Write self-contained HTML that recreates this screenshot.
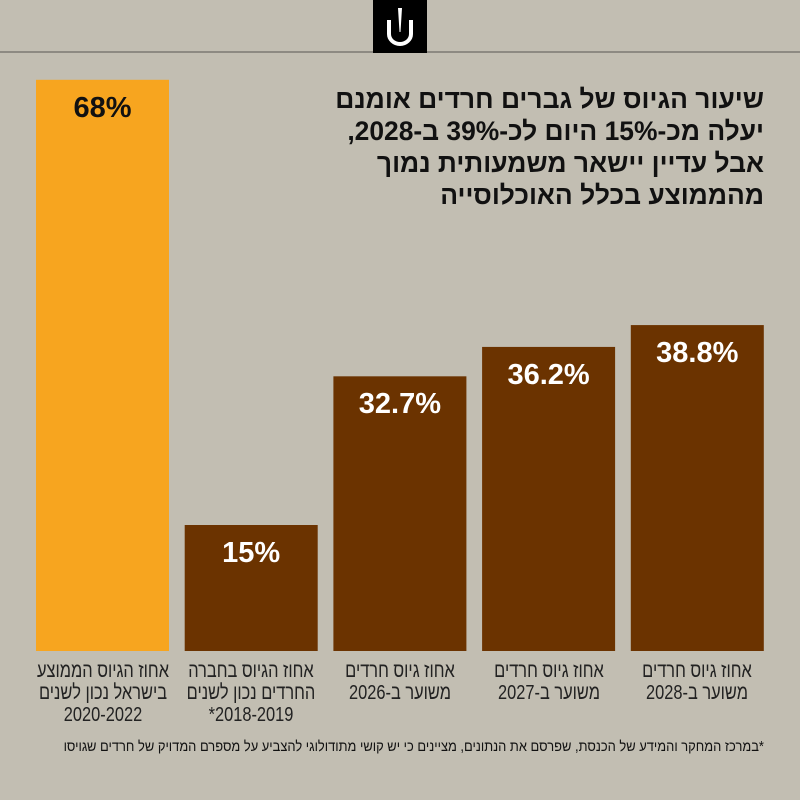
<!DOCTYPE html>
<html><head><meta charset="utf-8"><style>
body{margin:0;width:800px;height:800px;background:#c2beb2;position:relative;overflow:hidden;font-family:"Liberation Sans","DejaVu Sans",sans-serif}
#topline{position:absolute;left:0;top:51px;width:800px;height:2px;background:#8d8a82}
#logo{position:absolute;left:373px;top:0;width:54px;height:53px;background:#000}
#title{position:absolute;right:36px;top:83px;direction:rtl;text-align:right;font-weight:bold;font-size:26.4px;line-height:32px;color:#111;white-space:nowrap}
.lbl{position:absolute;top:660px;width:180px;text-align:center;direction:rtl;font-size:20.5px;line-height:22px;color:#222;transform:scaleX(0.8);transform-origin:center top;white-space:nowrap}
.val{position:absolute;text-align:center;font-weight:bold;font-size:29px;color:#fff}
#foot{position:absolute;right:36px;top:739px;direction:rtl;font-size:14.5px;color:#111;white-space:nowrap;transform:scaleX(0.89);transform-origin:right top}
</style></head><body>
<div id="topline"></div>
<div id="logo"><svg width="54" height="53"><polygon points="25,8 29,8 27.5,32 26.5,32" fill="#fff"/><path d="M16,20 V34 A11,10 0 0 0 38,34 V20" stroke="#fff" stroke-width="4" fill="none"/></svg></div>
<div id="title">שיעור הגיוס של גברים חרדים אומנם<br>יעלה מכ-15% היום לכ-39% ב-2028,<br>אבל עדיין יישאר משמעותית נמוך<br>מהממוצע בכלל האוכלוסייה</div>
<svg id="chart" width="800" height="800" style="position:absolute;left:0;top:0"></svg>
<div id="foot">*במרכז המחקר והמידע של הכנסת, שפרסם את הנתונים, מציינים כי יש קושי מתודולוגי להצביע על מספרם המדויק של חרדים שגויסו</div>
<script>
const categories=["אחוז הגיוס הממוצע<br>בישראל נכון לשנים<br>2020-2022","אחוז הגיוס בחברה<br>החרדים נכון לשנים<br>2018-2019*","אחוז גיוס חרדים<br>משוער ב-2026","אחוז גיוס חרדים<br>משוער ב-2027","אחוז גיוס חרדים<br>משוער ב-2028"];
const values=[68,15,32.7,36.2,38.8];
const valueLabels=["68%","15%","32.7%","36.2%","38.8%"];
const colors=["#f7a51f","#6b3300","#6b3300","#6b3300","#6b3300"];
const base=651, pxPer=8.4, x0=36, step=148.7, bw=133;
const y=v=>base-v*pxPer;
const svg=document.getElementById('chart');
values.forEach((v,i)=>{
  const r=document.createElementNS('http://www.w3.org/2000/svg','rect');
  
  
  r.setAttribute('x',x0+i*step);r.setAttribute('y',y(v));
  r.setAttribute('width',bw);r.setAttribute('height',base-y(v));
  r.setAttribute('fill',colors[i]);svg.appendChild(r);
  const t=document.createElement('div');
  
  
  t.className='val';t.textContent=valueLabels[i];
  t.style.left=(x0+i*step)+'px';t.style.width=bw+'px';t.style.top=(y(v)+12)+'px';
  if(i===0)t.style.color='#111';
  document.body.appendChild(t);
  const l=document.createElement('div');
  
  
  l.className='lbl';l.innerHTML=categories[i];
  l.style.left=(x0+i*step+bw/2-90)+'px';
  document.body.appendChild(l);
});
</script>
</body></html>
